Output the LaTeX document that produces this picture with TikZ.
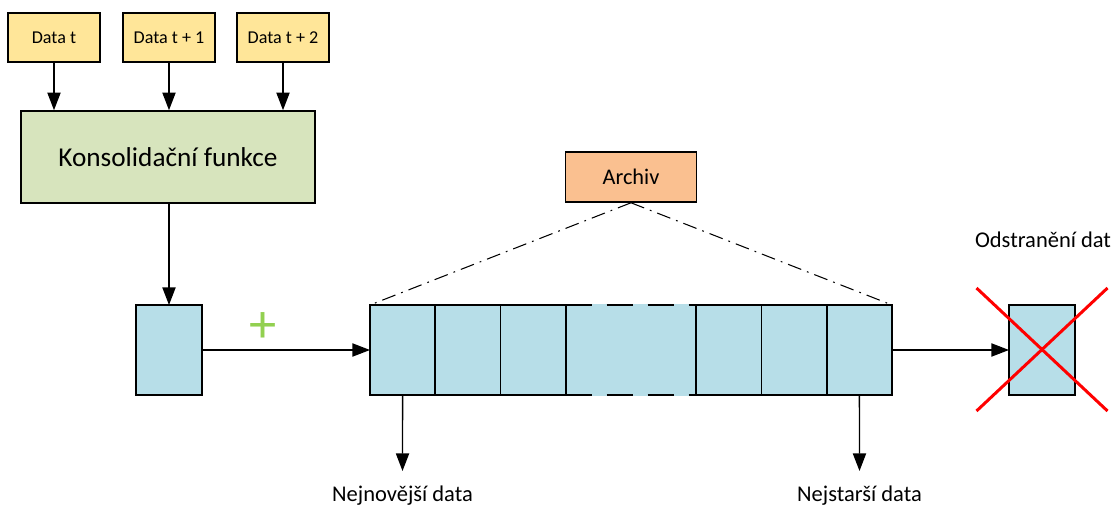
\documentclass[tikz,border=0pt]{standalone}
\usepackage{fontspec}
\setmainfont{Carlito}
\usetikzlibrary{positioning,arrows.meta}

\definecolor{datafill}{HTML}{FFE699}
\definecolor{funcfill}{HTML}{D7E4BD}
\definecolor{cellfill}{HTML}{B7DEE8}
\definecolor{archfill}{HTML}{FAC090}
\definecolor{plusgreen}{HTML}{92D050}

\tikzset{
    databox/.style={draw, line width=0.9pt, fill=datafill, minimum width=1.84cm, minimum height=0.98cm, inner sep=0pt, font=\fontsize{10.3}{12}\selectfont},
    funcbox/.style={draw, line width=0.9pt, fill=funcfill, minimum width=5.88cm, minimum height=1.84cm, font=\fontsize{15.5}{18}\selectfont},
    cell/.style={draw, line width=1pt, fill=cellfill, minimum width=1.305cm, minimum height=1.8cm, outer sep=0pt, inner sep=0pt},
    midcell/.style={fill=cellfill, minimum width=2.61cm, minimum height=1.8cm+1pt, outer sep=0pt, inner sep=0pt},
    archbox/.style={draw, line width=0.9pt, fill=archfill, minimum width=2.62cm, minimum height=1cm, font=\fontsize{12.7}{15}\selectfont},
    lbl/.style={font=\fontsize{12.8}{15}\selectfont, inner xsep=0pt, inner ysep=8pt},
    plussign/.style={text=plusgreen, font=\fontsize{31}{33}\selectfont, inner sep=0pt},
    arr/.style={-{Triangle[length=10pt,width=7.5pt]}, line width=0.75pt},
    gapline/.style={line width=1pt, dash pattern=on 15pt off 8.3pt},
    zoomline/.style={line width=0.6pt, dash pattern=on 8pt off 3.5pt on 1pt off 3.5pt},
    cross/.style={red, line width=1.7pt},
}

\begin{document}
\begin{tikzpicture}
    \useasboundingbox (0, 0) rectangle (22.32, 10.1);

    % Incoming data
    \node[databox] (d1) at (1.08, 9.35) {Data t};
    \node[databox] (d2) at (3.38, 9.35) {Data t + 1};
    \node[databox] (d3) at (5.66, 9.35) {Data t + 2};

    % Consolidation
    \node[funcbox] (func) at (3.36, 6.96) {Konsolidační funkce};
    \draw[arr] (d1.south) -- (d1.south |- func.north);
    \draw[arr] (d2.south) -- (d2.south |- func.north);
    \draw[arr] (d3.south) -- (d3.south |- func.north);

    % New value
    \node[cell, minimum width=1.32cm] (curr) at (3.38, 3.1) {};
    \draw[arr] (func.south -| curr.north) -- (curr.north);
    \node[plussign] (add) at (5.27, 3.55) {+};

    % Archive cells
    \node[midcell] (mid) at (12.62, 3.1) {};
    \node[cell, left=0pt of mid] (c3) {};
    \node[cell, left=0pt of c3] (c2) {};
    \node[cell, left=0pt of c2] (c1) {};
    \node[cell, right=0pt of mid] (c4) {};
    \node[cell, right=0pt of c4] (c5) {};
    \node[cell, right=0pt of c5] (c6) {};
    \draw[gapline] (c3.north east) -- (c4.north west);
    \draw[gapline] (c3.south east) -- (c4.south west);
    \draw[arr] (curr.east) -- (c1.west);

    % Archive
    \node[archbox] (arch) at (12.62, 6.56) {Archiv};
    \draw[zoomline] (arch.south) -- (c1.north west);
    \draw[zoomline] (arch.south) -- (c6.north east);

    % Newest and oldest
    \node[lbl, anchor=base] (newest) at (8.05, 0.08) {Nejnovější data};
    \node[lbl, anchor=base] (oldest) at (17.19, 0.08) {Nejstarší data};
    \draw[arr] (c1.south) -- (newest.north);
    \draw[arr] (c6.south) -- (oldest.north);

    % Removal
    \node[cell, minimum width=1.32cm] (del) at (20.84, 3.1) {};
    \draw[arr] (c6.east) -- (del.west);
    \draw[cross] ([shift={(-1.31, 1.24)}]del.center) -- ([shift={(1.31, -1.22)}]del.center);
    \draw[cross] ([shift={(-1.31, -1.22)}]del.center) -- ([shift={(1.31, 1.24)}]del.center);
    \node[lbl, anchor=base, inner ysep=0pt] (remove) at (20.86, 5.14) {Odstranění dat};
\end{tikzpicture}
\end{document}
